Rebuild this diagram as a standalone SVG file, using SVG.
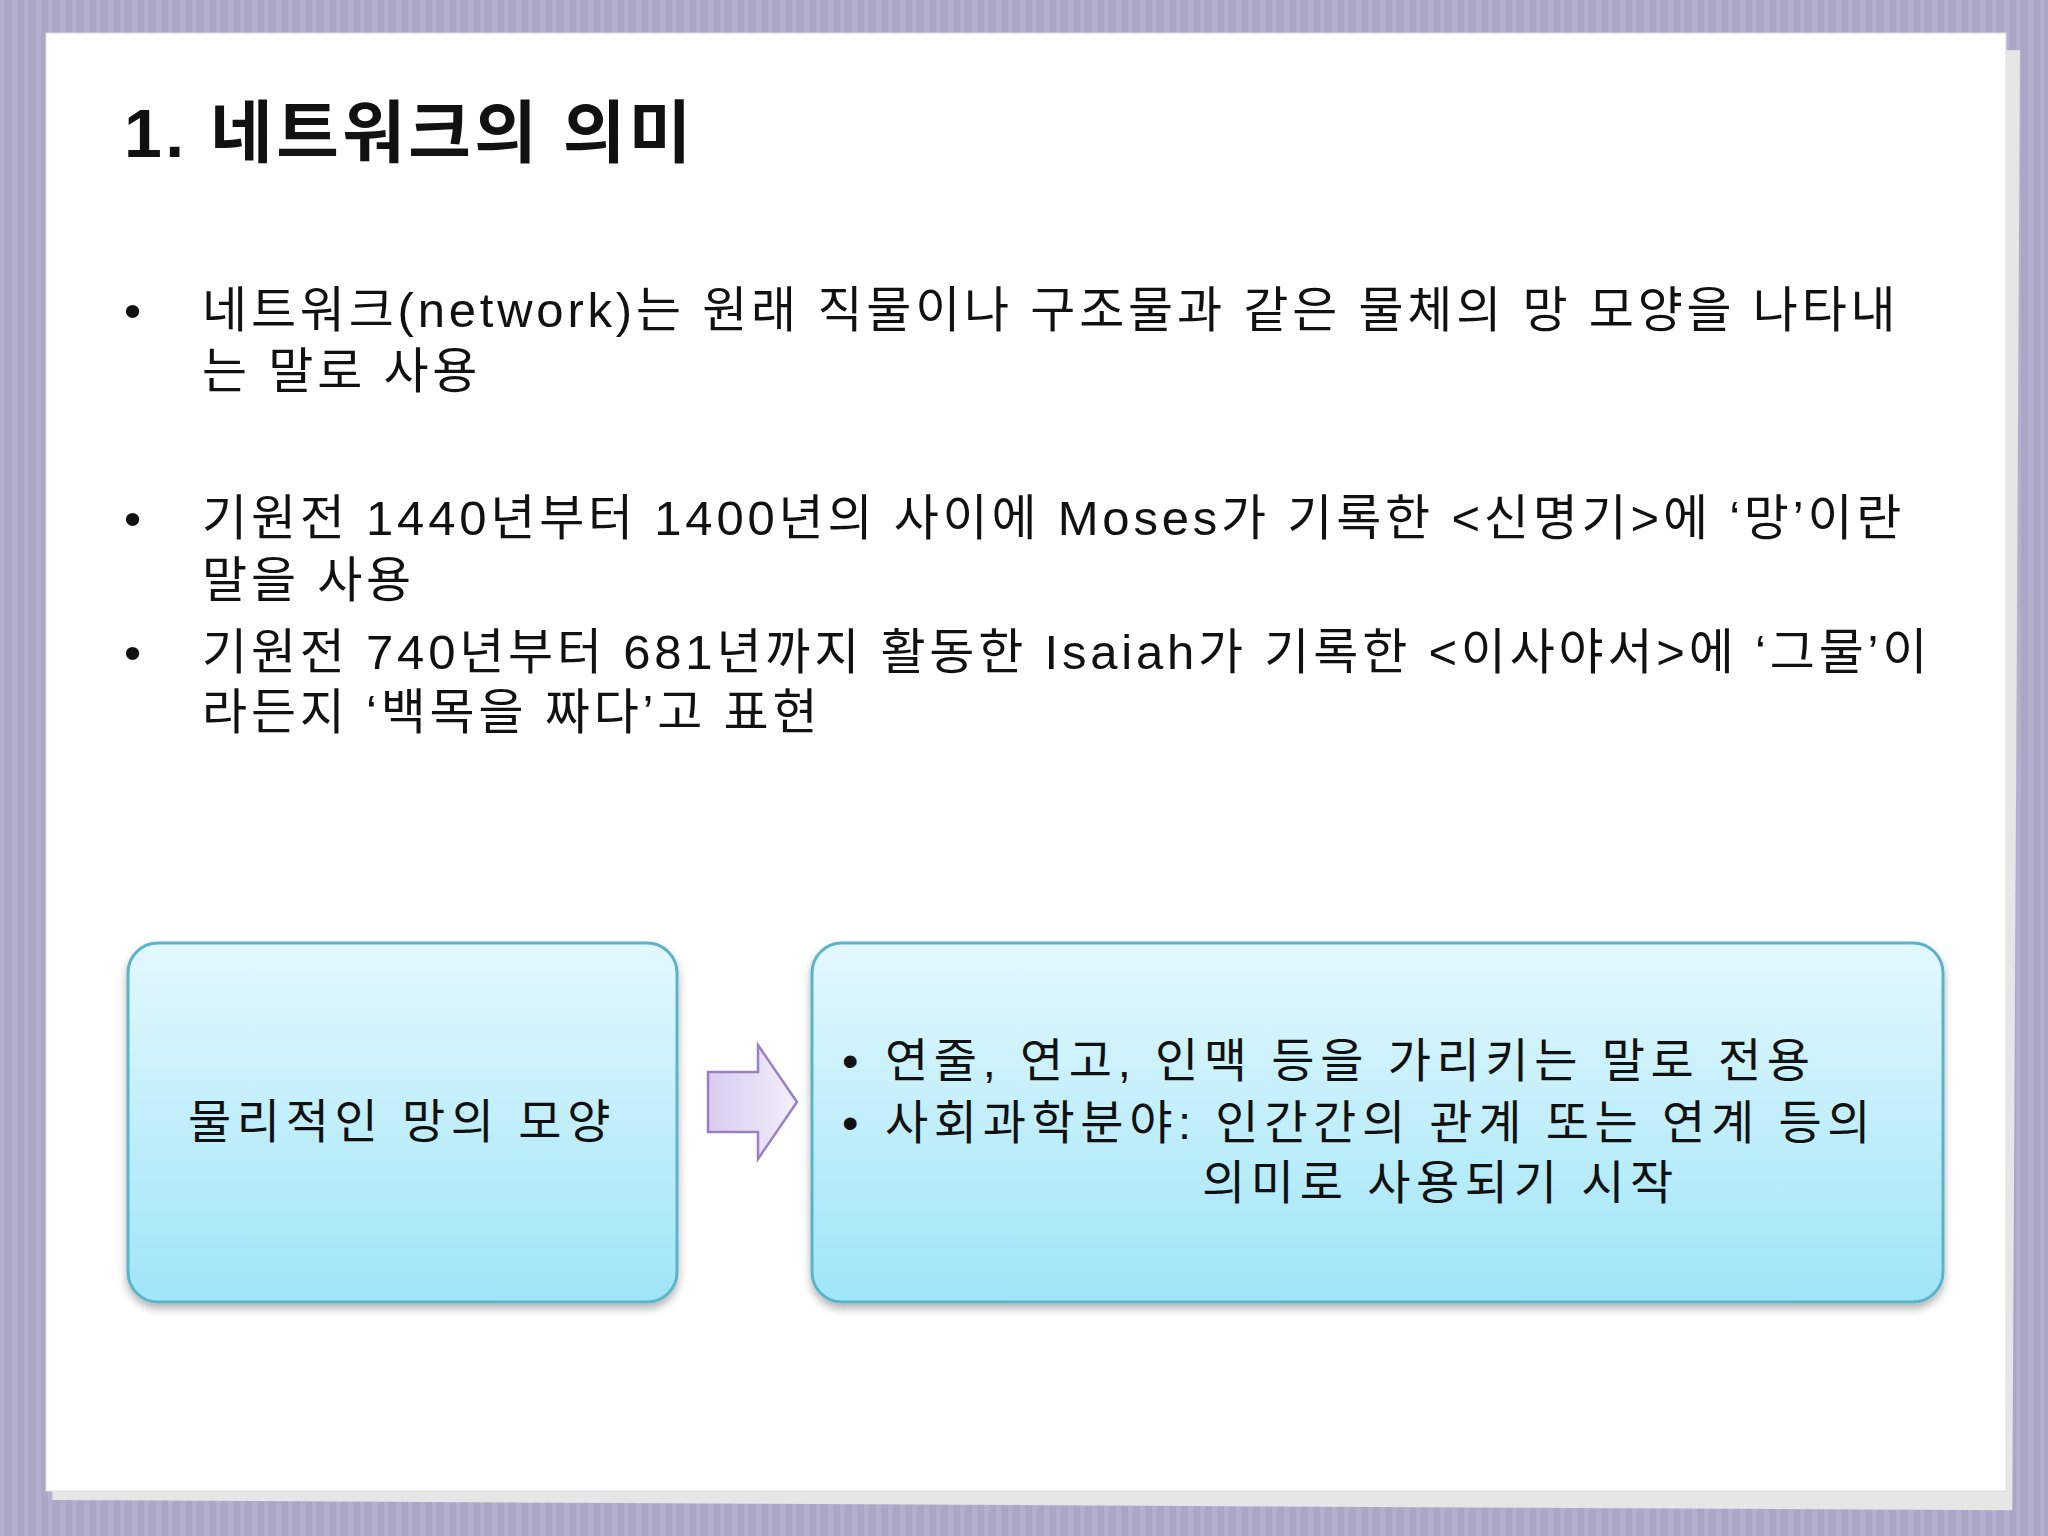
<svg xmlns="http://www.w3.org/2000/svg" width="2048" height="1536" viewBox="0 0 2048 1536">
<defs>
<pattern id="stripes" width="12" height="12" patternUnits="userSpaceOnUse"><rect width="12" height="12" fill="#a9a6c6"/><rect width="5" height="12" fill="#b3b0cf"/></pattern>
<linearGradient id="box" x1="0" y1="0" x2="0" y2="1"><stop offset="0" stop-color="#e3f8fd"/><stop offset="1" stop-color="#9fe5f8"/></linearGradient>
<linearGradient id="arr" x1="0" y1="0" x2="1" y2="0"><stop offset="0" stop-color="#d9ccf0"/><stop offset="1" stop-color="#f3effa"/></linearGradient>
<filter id="sh" x="-5%" y="-5%" width="110%" height="115%"><feDropShadow dx="0" dy="5" stdDeviation="4" flood-color="#000" flood-opacity="0.3"/></filter>
</defs>
<style>
text{font-family:"Liberation Sans","Noto Sans CJK KR",sans-serif;fill:#111}
.b{font-size:49px;letter-spacing:3.8px}
.k{font-size:47px;letter-spacing:5.6px}
.bx{fill:url(#box);stroke:#5ab3c9;stroke-width:3}
</style>
<rect width="2048" height="1536" fill="url(#stripes)"/>
<rect x="56" y="45" width="1960" height="1460" fill="#e6e6e6" transform="rotate(0.3 1000 800)"/>
<rect x="46" y="33" width="1960" height="1458" fill="#fff" stroke="#ddd"/>
<g id="title"><text x="124" y="157" style="font-size:68px;font-weight:bold;letter-spacing:3.5px">1. 네트워크의 의미</text></g>
<g id="bullets">
<text class="b" x="124" y="327">•</text><text class="b" x="202" y="327">네트워크(network)는 원래 직물이나 구조물과 같은 물체의 망 모양을 나타내</text>
<text class="b" x="202" y="388">는 말로 사용</text>
<text class="b" x="124" y="535">•</text><text class="b" x="202" y="535">기원전 1440년부터 1400년의 사이에 Moses가 기록한 &lt;신명기&gt;에 ‘망’이란</text>
<text class="b" x="202" y="597">말을 사용</text>
<text class="b" x="124" y="669">•</text><text class="b" x="202" y="669">기원전 740년부터 681년까지 활동한 Isaiah가 기록한 &lt;이사야서&gt;에 ‘그물’이</text>
<text class="b" x="202" y="729">라든지 ‘백목을 짜다’고 표현</text>
</g>
<g id="node-left"><rect class="bx" x="128" y="943" width="549" height="359" rx="30" filter="url(#sh)"/>
<text class="k" x="402" y="1138" text-anchor="middle">물리적인 망의 모양</text></g>
<g id="connectors"><path d="M708 1072 H758 V1045 L797 1102 L758 1159 V1132 H708 Z" fill="url(#arr)" stroke="#9b7fc4" stroke-width="2.5"/></g>
<g id="node-right"><rect class="bx" x="812" y="943" width="1131" height="359" rx="30" filter="url(#sh)"/>
<text class="k" x="842" y="1077">•</text><text class="k" x="885" y="1077">연줄, 연고, 인맥 등을 가리키는 말로 전용</text>
<text class="k" x="842" y="1139">•</text><text class="k" x="885" y="1139">사회과학분야: 인간간의 관계 또는 연계 등의</text>
<text class="k" x="1202" y="1199">의미로 사용되기 시작</text></g>
</svg>
